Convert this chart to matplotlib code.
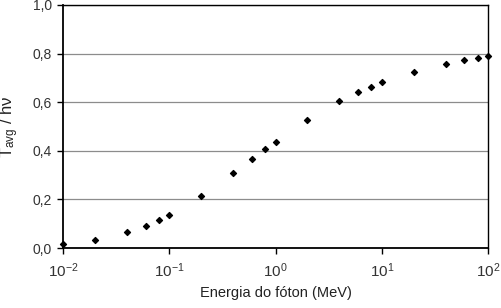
import matplotlib
matplotlib.use("Agg")
import matplotlib.pyplot as plt
from matplotlib.ticker import FixedLocator, FuncFormatter, NullLocator

energy = [0.01, 0.02, 0.04, 0.06, 0.08, 0.1, 0.2, 0.4, 0.6, 0.8, 1, 2, 4, 6, 8, 10, 20, 40, 60, 80, 100]
fraction = [0.016, 0.033, 0.065, 0.09, 0.114, 0.136, 0.214, 0.31, 0.366, 0.407, 0.436,
            0.527, 0.605, 0.642, 0.663, 0.683, 0.724, 0.757, 0.774, 0.782, 0.79]
yticks = [0.0, 0.2, 0.4, 0.6, 0.8, 1.0]
xticks = [0.01, 0.1, 1, 10, 100]
xtick_labels = [r"$10^{-2}$", r"$10^{-1}$", r"$10^{0}$", r"$10^{1}$", r"$10^{2}$"]

plt.rcParams['font.family'] = ['Liberation Sans', 'DejaVu Sans']
plt.rcParams['mathtext.fontset'] = 'custom'
plt.rcParams['mathtext.rm'] = 'Liberation Sans'
plt.rcParams['mathtext.it'] = 'Liberation Sans'

fig = plt.figure(figsize=(5.01, 3.08), dpi=100)
ax = fig.add_axes([63/501, 1-248/308, (488-63)/501, (248-5)/308])

ax.scatter(energy, fraction, marker='D', s=9, color='black', zorder=3, clip_on=False)

ax.set_xscale('log')
ax.set_xlim(0.01, 100)
ax.set_ylim(0, 1.0)
ax.xaxis.set_major_locator(FixedLocator(xticks))
ax.xaxis.set_minor_locator(NullLocator())
ax.set_xticklabels(xtick_labels)
ax.yaxis.set_major_locator(FixedLocator(yticks))
ax.yaxis.set_major_formatter(FuncFormatter(lambda v, p: f"{v:.1f}".replace('.', ',')))

ax.grid(axis='y', color='#8c8c8c', linewidth=0.9)
ax.set_axisbelow(True)
for s in ax.spines.values():
    s.set_color('black')
    s.set_linewidth(1.0)
ax.spines['left'].set_linewidth(1.3)
ax.spines['bottom'].set_linewidth(1.3)

ax.tick_params(axis='both', direction='out', length=4, width=1, colors='black',
               labelsize=10, labelcolor='#333333')
ax.tick_params(axis='x', pad=6, labelsize=11)
ax.tick_params(axis='y', pad=4)

ax.set_xlabel("Energia do fóton (MeV)", fontsize=10.5, color='#222222', labelpad=4)
ax.set_ylabel(r"T$_{avg}$ / h$\nu$", fontsize=12, color='#222222', labelpad=8)

fig.savefig("out.png", dpi=100)
